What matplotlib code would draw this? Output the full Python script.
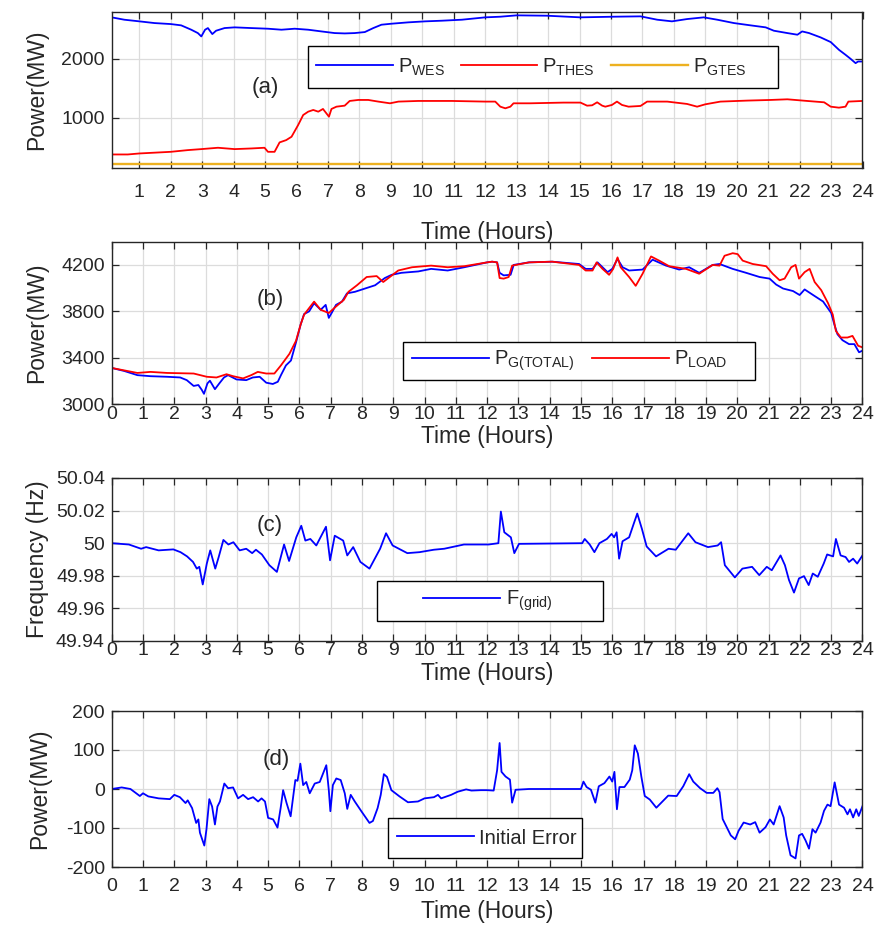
import numpy as np
import matplotlib
matplotlib.use("Agg")
import matplotlib.pyplot as plt
from matplotlib.patches import Rectangle

# ---------------- data ----------------
hours_ticks = list(range(0, 25))
hours_ticks_a = list(range(1, 25))

t_wes = [0.12,0.52,1.0,1.48,2.0,2.33,2.65,2.86,2.97,3.09,3.18,3.32,3.44,3.71,4.03,4.56,5.09,5.52,5.94,6.37,
         6.79,7.21,7.53,7.85,8.17,8.44,8.7,9.02,9.55,10.09,10.62,11.26,12.0,12.48,13.0,13.96,15.03,16.09,16.94,17.47,
         17.94,18.42,18.95,19.38,19.91,20.44,20.92,21.18,21.61,21.93,22.08,22.3,22.67,22.99,23.25,23.46,23.62,23.78,23.86,24.0]
p_wes = [2704,2664,2636,2607,2590,2568,2494,2437,2380,2494,2522,2420,2477,2522,2534,2522,2511,2494,2511,2494,
         2465,2437,2431,2437,2454,2522,2579,2596,2619,2636,2647,2664,2704,2715,2738,2732,2704,2715,2721,2664,
         2636,2675,2704,2664,2607,2568,2534,2477,2437,2409,2465,2437,2363,2284,2153,2068,2000,1926,1954,1954]

t_thes = [0.12,0.63,1.0,2.0,2.54,2.97,3.5,4.03,4.56,4.98,5.09,5.3,5.46,5.67,5.84,6.05,6.21,6.37,6.53,6.69,
          6.84,7.03,7.11,7.27,7.53,7.69,7.96,8.28,8.6,8.97,9.24,9.87,10.94,12.0,12.32,12.48,12.64,12.8,12.9,13.43,
          14.49,15.03,15.24,15.4,15.56,15.72,15.82,16.03,16.19,16.35,16.56,16.94,17.15,17.79,18.42,18.74,19.0,19.48,20.33,21.08,
          21.61,22.24,22.78,22.99,23.25,23.46,23.55,24.0]
p_thes = [375,375,392,420,449,466,489,466,477,489,420,420,580,619,676,875,1045,1102,1131,1102,
          1148,1017,1148,1187,1204,1284,1301,1301,1273,1244,1273,1284,1284,1273,1273,1187,1159,1187,1244,1244,
          1256,1256,1204,1210,1261,1204,1187,1216,1273,1216,1187,1199,1273,1273,1233,1187,1227,1273,1290,1301,
          1312,1284,1261,1187,1170,1187,1273,1284]

t_gtes = [0.0, 24.0]
p_gtes = [220, 220]

t_gen = [0,0.4,0.82,1.24,1.77,2.19,2.4,2.62,2.77,2.88,2.95,3.06,3.14,3.3,3.44,3.59,3.72,3.99,4.3,4.51,
         4.73,4.94,5.15,5.31,5.41,5.57,5.73,5.89,6.04,6.15,6.31,6.47,6.68,6.84,6.94,7.03,7.17,7.36,7.52,7.78,
         8.1,8.42,8.73,8.95,9.26,9.8,10.21,10.74,11.27,12.0,12.16,12.32,12.4,12.53,12.75,12.85,13.34,14.08,14.94,15.15,
         15.37,15.53,15.69,15.85,16.0,16.17,16.33,16.54,16.97,17.29,17.72,18.14,18.46,18.78,19.21,19.43,19.85,20.28,20.71,21.03,
         21.24,21.46,21.78,21.99,22.15,22.42,22.74,23.0,23.1,23.2,23.36,23.57,23.74,23.89,24.0]
p_gen = [3313,3287,3251,3242,3237,3231,3208,3158,3166,3124,3090,3180,3203,3130,3180,3231,3251,3214,3208,3231,
         3237,3186,3175,3194,3251,3335,3377,3532,3687,3777,3800,3870,3814,3856,3744,3786,3856,3884,3955,3969,
         3997,4025,4087,4115,4132,4144,4166,4152,4180,4222,4228,4222,4132,4110,4115,4200,4222,4228,4208,4166,
         4166,4222,4180,4138,4166,4251,4180,4152,4160,4245,4194,4160,4180,4132,4200,4208,4166,4132,4096,4082,
         4031,3997,3975,3941,3989,3941,3885,3786,3687,3603,3552,3518,3518,3448,3462]

t_load = [0,0.82,1.24,1.77,2.62,3.04,3.35,3.67,3.88,4.2,4.46,4.67,4.94,5.2,5.41,5.68,5.89,6.04,6.15,6.47,
          6.68,6.94,7.17,7.42,7.57,7.84,8.15,8.47,8.68,8.89,9.16,9.6,10.21,10.74,11.27,12.0,12.16,12.32,12.4,12.53,
          12.69,12.8,13.34,14.08,14.94,15.15,15.37,15.5,15.69,15.9,16.03,16.17,16.27,16.54,16.75,16.97,17.24,17.5,17.82,18.36,
          18.78,19.21,19.43,19.59,19.85,20.01,20.17,20.49,20.92,21.13,21.35,21.51,21.72,21.86,21.97,22.15,22.31,22.47,22.68,22.9,
          23.05,23.15,23.31,23.52,23.68,23.86,24.0]
p_load = [3313,3270,3279,3270,3265,3237,3231,3259,3242,3223,3251,3279,3265,3265,3335,3434,3546,3687,3772,3884,
          3814,3786,3842,3899,3969,4025,4096,4104,4053,4096,4152,4180,4194,4180,4189,4222,4228,4222,4087,4082,
          4096,4194,4222,4228,4200,4152,4152,4222,4166,4115,4166,4265,4180,4096,4020,4124,4273,4237,4189,4166,
          4124,4200,4194,4279,4301,4293,4237,4208,4189,4124,4068,4082,4180,4200,4082,4138,4166,4053,3983,3870,
          3772,3631,3575,3575,3589,3504,3490]

t_freq = [0,0.55,0.94,1.1,1.5,1.97,2.2,2.41,2.6,2.72,2.8,2.91,3.04,3.15,3.31,3.42,3.57,3.73,3.89,4.09,
          4.3,4.49,4.61,4.8,5.04,5.28,5.51,5.67,5.9,6.06,6.19,6.35,6.54,6.85,6.98,7.13,7.4,7.53,7.72,7.95,
          8.24,8.58,8.77,8.98,9.45,9.84,10.3,10.63,11.26,12.05,12.36,12.44,12.55,12.76,12.87,13.02,15.04,15.12,15.28,15.43,
          15.59,15.83,15.98,16.06,16.14,16.22,16.33,16.54,16.69,16.8,16.95,17.1,17.4,17.8,18.03,18.43,18.66,19.06,19.37,19.48,
          19.6,19.92,20.16,20.47,20.7,20.94,21.1,21.38,21.52,21.65,21.81,21.97,22.13,22.28,22.41,22.57,22.76,22.87,23.06,23.15,
          23.3,23.46,23.57,23.7,23.83,24.0]
f_grid = [50.0000,49.9992,49.9966,49.9976,49.9956,49.9962,49.9945,49.9919,49.9885,49.9844,
          49.9855,49.9747,49.9875,49.9956,49.9844,49.9915,50.0020,49.9992,50.0006,49.9956,
          49.9966,49.9939,49.9960,49.9931,49.9865,49.9824,49.9992,49.9891,50.0036,50.0107,
          50.0016,50.0026,49.9986,50.0101,49.9895,50.0046,50.0016,49.9925,49.9976,49.9885,
          49.9844,49.9966,50.0061,49.9986,49.9939,49.9945,49.9960,49.9966,49.9992,49.9992,
          50.0000,50.0194,50.0067,50.0036,49.9939,49.9996,50.0000,50.0026,49.9992,49.9945,
          50.0000,50.0026,50.0057,50.0036,50.0067,49.9905,50.0012,50.0036,50.0121,50.0182,
          50.0087,49.9980,49.9919,49.9966,49.9960,50.0061,50.0006,49.9976,49.9986,50.0006,
          49.9865,49.9790,49.9844,49.9855,49.9804,49.9855,49.9834,49.9925,49.9865,49.9774,
          49.9697,49.9784,49.9798,49.9743,49.9814,49.9794,49.9875,49.9931,49.9919,50.0026,
          49.9925,49.9915,49.9885,49.9905,49.9875,49.9925]

t_err = [0,0.32,0.6,0.9,1.0,1.17,1.5,1.86,2.0,2.18,2.36,2.43,2.57,2.7,2.77,2.82,2.96,3.03,3.12,3.21,
         3.3,3.38,3.46,3.6,3.72,3.88,4.04,4.2,4.36,4.52,4.68,4.79,4.9,5.0,5.16,5.3,5.4,5.48,5.59,5.72,
         5.87,5.94,6.03,6.12,6.22,6.33,6.49,6.65,6.86,6.94,6.99,7.07,7.18,7.32,7.45,7.53,7.64,7.77,7.98,8.24,
         8.35,8.5,8.6,8.7,8.8,8.94,9.2,9.47,9.79,10.0,10.3,10.43,10.53,10.85,11.06,11.33,11.5,11.8,12.0,12.21,
         12.32,12.4,12.46,12.59,12.73,12.8,12.91,13.34,14.41,15.0,15.08,15.18,15.32,15.46,15.57,15.75,15.91,16.0,16.07,16.15,
         16.23,16.39,16.56,16.64,16.72,16.82,16.93,17.04,17.2,17.41,17.57,17.79,18.06,18.27,18.46,18.59,18.81,19.02,19.23,19.36,
         19.43,19.53,19.66,19.79,19.93,20.04,20.2,20.41,20.57,20.71,20.9,21.04,21.16,21.35,21.48,21.56,21.7,21.86,21.97,22.07,
         22.18,22.29,22.4,22.5,22.66,22.77,22.88,22.98,23.11,23.25,23.41,23.52,23.6,23.7,23.8,23.88,24.0]
e_init = [0,4,0,-18,-11,-19,-24,-26,-15,-21,-36,-29,-49,-87,-78,-112,-145,-103,-26,-45,
          -91,-45,-32,14,2,4,-24,-15,-26,-21,-32,-24,-32,-74,-78,-99,-49,-3,-36,-70,
          23,21,65,10,18,-11,14,18,61,-3,-57,10,27,23,-11,-51,-15,-32,-57,-87,
          -82,-49,-15,38,31,-3,-19,-34,-32,-24,-21,-15,-24,-15,-7,-1,-4,-3,-3,-4,
          48,118,44,32,24,-35,-2,0,0,0,19,5,-2,-35,7,15,32,19,44,-52,
          5,5,24,48,112,91,32,-18,-27,-48,-35,-17,-18,7,38,19,2,-10,-10,2,
          -8,-77,-98,-119,-129,-107,-86,-91,-85,-112,-98,-78,-91,-44,-73,-119,-170,-178,-119,-115,
          -132,-153,-103,-112,-86,-56,-40,-44,17,-40,-48,-65,-52,-73,-52,-69,-44]

# ---------------- style ----------------
W, H = 878, 925
plt.rcParams['font.family'] = ['Liberation Sans', 'DejaVu Sans']
plt.rcParams['mathtext.fontset'] = 'custom'
plt.rcParams['mathtext.rm'] = 'Liberation Sans'
plt.rcParams['axes.unicode_minus'] = False

TXT = '#262626'
BLUE = '#0000ff'
RED = '#ff0000'
ORANGE = '#EDB120'
LW = 1.3
TICK_FS = 14
LABEL_FS = 16.5

fig = plt.figure(figsize=(W / 100, H / 100), dpi=100)

L, R = 111.7, 862.5
boxes = {  # top, bottom in pixels
    'a': (11.7, 168.3),
    'b': (241.7, 404.3),
    'c': (478.0, 641.0),
    'd': (711.0, 867.0),
}


def make_ax(key):
    top, bot = boxes[key]
    return fig.add_axes([L / W, 1 - bot / H, (R - L) / W, (bot - top) / H])


def px2ax(key, x, y):
    top, bot = boxes[key]
    return (x - L) / (R - L), (bot - y) / (bot - top)


def style(ax, key, xpad, xlabel_top, ylabel_x):
    ax.grid(True, color='#dcdcdc', linewidth=0.9)
    ax.set_axisbelow(True)
    ax.tick_params(direction='in', top=True, right=True, length=5, width=0.9,
                   color=TXT, labelsize=TICK_FS, labelcolor=TXT)
    ax.tick_params(axis='x', pad=xpad)
    ax.tick_params(axis='y', pad=5)
    for s in ax.spines.values():
        s.set_color(TXT)
        s.set_linewidth(1.0)
    ax.set_xlabel('Time (Hours)', fontsize=LABEL_FS, color=TXT)
    ax.xaxis.set_label_coords(0.5, px2ax(key, 0, xlabel_top)[1])
    ax.yaxis.set_label_coords(px2ax(key, ylabel_x, 0)[0], 0.5)


def framed_legend(ax, key, handles, labels, rect, start, cy, ncol, hlen, tpad, cspace, fs=14.5):
    x0, y0 = px2ax(key, rect[0], rect[3])
    x1, y1 = px2ax(key, rect[2], rect[1])
    ax.add_patch(Rectangle((x0, y0), x1 - x0, y1 - y0, transform=ax.transAxes,
                           facecolor='white', edgecolor='black', linewidth=1.0, zorder=4))
    ax_x, ax_y = px2ax(key, start, cy)
    leg = ax.legend(handles, labels, loc='center left', bbox_to_anchor=(ax_x, ax_y),
                    frameon=False, borderpad=0, borderaxespad=0, ncol=ncol,
                    handlelength=hlen, handletextpad=tpad, columnspacing=cspace,
                    prop={'size': fs})
    leg.set_zorder(5)
    for txt in leg.get_texts():
        txt.set_color(TXT)
    return leg


def sub(base, s):
    return base + r'$_{\mathregular{' + s + '}}$'


# ---- panel a ----
ax = make_ax('a')
la, = ax.plot(t_wes, p_wes, color=BLUE, lw=LW)
lb, = ax.plot(t_thes, p_thes, color=RED, lw=LW)
lc, = ax.plot(t_gtes, p_gtes, color=ORANGE, lw=LW + 0.4)
ax.set_xlim(0.12, 24)
ax.set_ylim(140, 2800)
ax.set_xticks(hours_ticks_a)
ax.set_yticks([1000, 2000])
ax.set_ylabel('Power(MW)', fontsize=LABEL_FS, color=TXT, va='center')
style(ax, 'a', 11, 221, 37)
framed_legend(ax, 'a', [la, lb, lc], [sub('P', 'WES'), sub('P', 'THES'), sub('P', 'GTES')],
              (308, 46, 778, 88), 316, 67, 3, 3.8, 0.25, 0.8)
tx, ty = px2ax('a', 265, 88)
ax.text(tx, ty, '(a)', transform=ax.transAxes, ha='center', va='center', fontsize=16, color=TXT)

# ---- panel b ----
ax = make_ax('b')
lg, = ax.plot(t_gen, p_gen, color=BLUE, lw=LW)
ll, = ax.plot(t_load, p_load, color=RED, lw=LW)
ax.set_xlim(0, 24)
ax.set_ylim(3000, 4400)
ax.set_xticks(hours_ticks)
ax.set_yticks([3000, 3400, 3800, 4200])
ax.set_ylabel('Power(MW)', fontsize=LABEL_FS, color=TXT, va='center')
style(ax, 'b', 1, 425, 37)
framed_legend(ax, 'b', [lg, ll], [sub('P', 'G(TOTAL)'), sub('P', 'LOAD')],
              (403, 342, 755, 380), 412, 361, 2, 3.8, 0.25, 0.9)
tx, ty = px2ax('b', 270, 300)
ax.text(tx, ty, '(b)', transform=ax.transAxes, ha='center', va='center', fontsize=16, color=TXT)

# ---- panel c ----
ax = make_ax('c')
lf, = ax.plot(t_freq, f_grid, color=BLUE, lw=LW)
ax.set_xlim(0, 24)
ax.set_ylim(49.94, 50.04)
ax.set_xticks(hours_ticks)
ax.set_yticks([49.94, 49.96, 49.98, 50.0, 50.02, 50.04])
ax.set_yticklabels(['49.94', '49.96', '49.98', '50', '50.02', '50.04'])
ax.set_ylabel('Frequency (Hz)', fontsize=LABEL_FS, color=TXT, va='center')
style(ax, 'c', 1, 662, 38)
framed_legend(ax, 'c', [lf], [sub('F', '(grid)')],
              (377, 581, 603, 621), 423, 601, 1, 3.8, 0.3, 0.8)
tx, ty = px2ax('c', 270, 525)
ax.text(tx, ty, '(c)', transform=ax.transAxes, ha='center', va='center', fontsize=16, color=TXT)

# ---- panel d ----
ax = make_ax('d')
le, = ax.plot(t_err, e_init, color=BLUE, lw=LW)
ax.set_xlim(0, 24)
ax.set_ylim(-200, 200)
ax.set_xticks(hours_ticks)
ax.set_yticks([-200, -100, 0, 100, 200])
ax.set_ylabel('Power(MW)', fontsize=LABEL_FS, color=TXT, va='center')
style(ax, 'd', 8, 900, 40)
framed_legend(ax, 'd', [le], ['Initial Error'],
              (388, 818, 582, 858), 397, 838, 1, 3.8, 0.25, 0.8)
tx, ty = px2ax('d', 276, 760)
ax.text(tx, ty, '(d)', transform=ax.transAxes, ha='center', va='center', fontsize=16, color=TXT)

fig.savefig('out.png', dpi=100)
